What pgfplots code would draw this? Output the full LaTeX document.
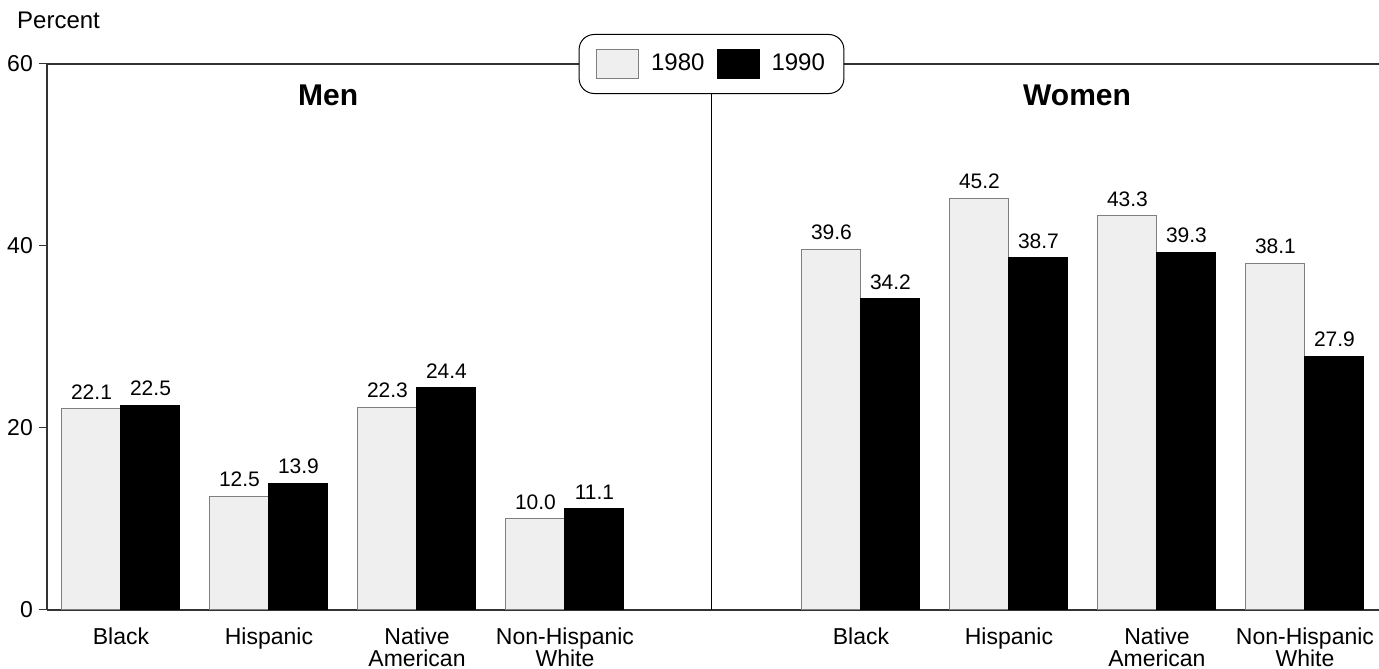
\documentclass[border=0pt]{standalone}
\usepackage{pgfplots}
\pgfplotsset{compat=1.18}
\usepackage{fontspec}
\setmainfont{Liberation Sans}
\definecolor{lightbar}{HTML}{EFEFEF}
\definecolor{barline}{HTML}{7F7F7F}
\definecolor{axisline}{HTML}{333333}
\begin{document}
\fontsize{21}{22}\selectfont
\begin{tikzpicture}
\begin{axis}[
  scale only axis, width=1332pt, height=546pt,
  xmin=-0.5, xmax=8.5, ymin=0, ymax=60,
  axis lines=left, axis line style={-, line width=1.3pt, axisline},
  ybar=0pt, bar width=59pt,
  xtick={0,1,2,3,5,6,7,8},
  xticklabels={Black,Hispanic,{Native\\American},{Non-Hispanic\\White},Black,Hispanic,{Native\\American},{Non-Hispanic\\White}},
  xticklabel style={align=center, font=\fontsize{23}{21.5}\selectfont, yshift=-3pt},
  x tick style={draw=none},
  ytick={0,20,40,60}, tick align=outside, major tick length=8pt,
  y tick style={line width=1pt, axisline},
  yticklabel style={font=\fontsize{23}{24}\selectfont, xshift=1pt},
  /pgf/number format/assume math mode=true,
  nodes near coords={\pgfmathprintnumber[fixed,fixed zerofill,precision=1]{\pgfplotspointmeta}},
  every node near coord/.append style={text=black, inner sep=0pt, yshift=9pt, font=\fontsize{21}{22}\selectfont},
  clip=false,
  legend columns=2,
  legend style={at={(axis cs:3.99,60)}, anchor=center, draw=black, line width=1pt, rounded corners=15pt, fill=white,
    inner xsep=17pt, inner ysep=15pt, font=\fontsize{24}{25}\selectfont,
    /tikz/every odd column/.append style={column sep=10pt},
    /tikz/every even column/.append style={column sep=10pt}},
  legend image code/.code={\draw[#1, sharp corners] (0pt,-14pt) rectangle (42pt,14pt);},
]
\addplot[fill=lightbar, draw=barline, line width=1pt] coordinates {(0,22.1) (1,12.5) (2,22.3) (3,10.0) (5,39.6) (6,45.2) (7,43.3) (8,38.1)};
\addplot[fill=black, draw=black, line width=1pt] coordinates {(0,22.5) (1,13.9) (2,24.4) (3,11.1) (5,34.2) (6,38.7) (7,39.3) (8,27.9)};
\legend{1980,1990}
\draw[line width=1.3pt, axisline] (rel axis cs:0,1) -- (rel axis cs:1,1);
\draw[line width=1pt, black] (axis cs:3.99,0) -- (axis cs:3.99,60);
\node[anchor=base, font=\bfseries\fontsize{30}{30}\selectfont] at (axis cs:1.40,55.4) {Men};
\node[anchor=base, font=\bfseries\fontsize{30}{30}\selectfont] at (axis cs:6.46,55.4) {Women};
\node[anchor=base west, inner sep=0pt, font=\fontsize{24}{25}\selectfont] at ([xshift=-30pt,yshift=35pt]rel axis cs:0,1) {Percent};
\end{axis}
\pgfresetboundingbox
\path[use as bounding box] (-47pt,-59pt) rectangle (1332pt,610pt);
\end{tikzpicture}
\end{document}
